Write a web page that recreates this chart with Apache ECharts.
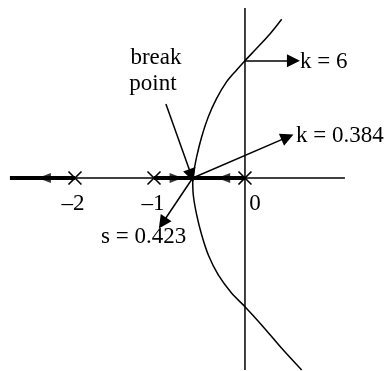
<!DOCTYPE html>
<html>
<head>
<meta charset="utf-8">
<script src="https://cdn.jsdelivr.net/npm/echarts@6/dist/echarts.min.js"></script>
<style>
  html, body { margin: 0; padding: 0; background: #fff; }
  #chart { width: 387px; height: 371px; }
</style>
</head>
<body>
<div id="chart"></div>
<script>
// s-plane positions as drawn in the sketch (not to scale)
var poles = [[-2, 0], [-1.07, 0], [0, 0]];
var poleLabels = ['\u20132', '\u20131', '0'];
var breakPoint = [-0.615, 0];

// root locus branches leaving the break point
var upperBranch = [[-0.615, 0], [-0.568, 0.251], [-0.509, 0.486], [-0.431, 0.721], [-0.333, 0.937], [-0.215, 1.133],
  [-0.098, 1.271], [0, 1.38], [0.138, 1.526], [0.294, 1.694], [0.432, 1.867]];
var lowerBranch = [[-0.615, 0], [-0.608, -0.2], [-0.568, -0.435], [-0.509, -0.671], [-0.431, -0.906], [-0.314, -1.141],
  [-0.156, -1.357], [0, -1.514], [0.196, -1.729], [0.432, -2.004], [0.667, -2.259]];

// real axis segments that are part of the locus
var locusOnAxis = [[[-2.765, 0], [-2, 0]], [[-1.07, 0], [0, 0]]];
// direction of travel on the real axis: [x, pointsLeft]
var axisArrows = [[-2.36, true], [-0.81, false], [-0.25, true]];

// call-out arrows: from, to
var callouts = [
  [[-0.93, 0.87], [-0.63, 0.03]],
  [[0, 1.38], [0.57, 1.38]],
  [[-0.615, 0], [0.5, 0.48]],
  [[-0.615, 0], [-0.97, -0.53]]
];

var chart = echarts.init(document.getElementById('chart'));
var FONT = '"Liberation Serif", "DejaVu Serif", serif';

chart.setOption({
  animation: false,
  grid: { left: 0, right: 0, top: 0, bottom: 0 },
  xAxis: { type: 'value', min: -2.882, max: 1.671, show: false },
  yAxis: { type: 'value', min: -2.271, max: 2.094, show: false },
  series: [
    { // real axis
      type: 'line', data: [[-2.765, 0], [1.176, 0]], showSymbol: false,
      lineStyle: { color: '#000', width: 1.5 }
    },
    { // imaginary axis
      type: 'line', data: [[0, 2.0], [0, -2.26]], showSymbol: false,
      lineStyle: { color: '#000', width: 1.5 }
    },
    {
      type: 'lines', coordinateSystem: 'cartesian2d',
      data: locusOnAxis.map(function (s) { return { coords: s }; }),
      lineStyle: { color: '#000', width: 4, opacity: 1 }
    },
    {
      type: 'line', data: upperBranch, smooth: 0.3, showSymbol: false,
      lineStyle: { color: '#000', width: 1.5 }
    },
    {
      type: 'line', data: lowerBranch, smooth: 0.3, showSymbol: false,
      lineStyle: { color: '#000', width: 1.5 }
    },
    {
      type: 'scatter', symbol: 'triangle', symbolSize: [10, 13],
      itemStyle: { color: '#000' },
      data: axisArrows.map(function (a) {
        return { value: [a[0], 0], symbolRotate: a[1] ? 90 : -90 };
      })
    },
    {
      type: 'lines', coordinateSystem: 'cartesian2d',
      symbol: ['none', 'triangle'], symbolSize: [10, 13],
      data: callouts.map(function (c) { return { coords: c }; }),
      lineStyle: { color: '#000', width: 1.5, opacity: 1 }
    },
    {
      type: 'custom',
      data: poles,
      renderItem: function (params, api) {
        var p = api.coord([api.value(0), api.value(1)]);
        var h = 6.5;
        var st = { stroke: '#000', lineWidth: 1.6 };
        return {
          type: 'group',
          children: [
            { type: 'line', shape: { x1: p[0] - h, y1: p[1] - h, x2: p[0] + h, y2: p[1] + h }, style: st },
            { type: 'line', shape: { x1: p[0] - h, y1: p[1] + h, x2: p[0] + h, y2: p[1] - h }, style: st }
          ]
        };
      }
    }
  ]
});

function txt(x, y, s, align) {
  return {
    type: 'text', x: x, y: y,
    style: { text: s, fill: '#000', font: '23px ' + FONT, align: align || 'left', verticalAlign: 'middle' }
  };
}

var pp = poles.map(function (p) { return chart.convertToPixel({ gridIndex: 0 }, p); });
chart.setOption({
  graphic: [
    txt(pp[0][0] - 2, pp[0][1] + 26, poleLabels[0], 'center'),
    txt(pp[1][0] - 1, pp[1][1] + 26, poleLabels[1], 'center'),
    txt(pp[2][0] + 10, pp[2][1] + 26, poleLabels[2], 'center'),
    txt(156, 58, 'break', 'center'),
    txt(153, 84, 'point', 'center'),
    txt(300, 62, 'k = 6'),
    txt(296, 136, 'k = 0.384'),
    txt(101, 237, 's = 0.423')
  ]
});
</script>
</body>
</html>
